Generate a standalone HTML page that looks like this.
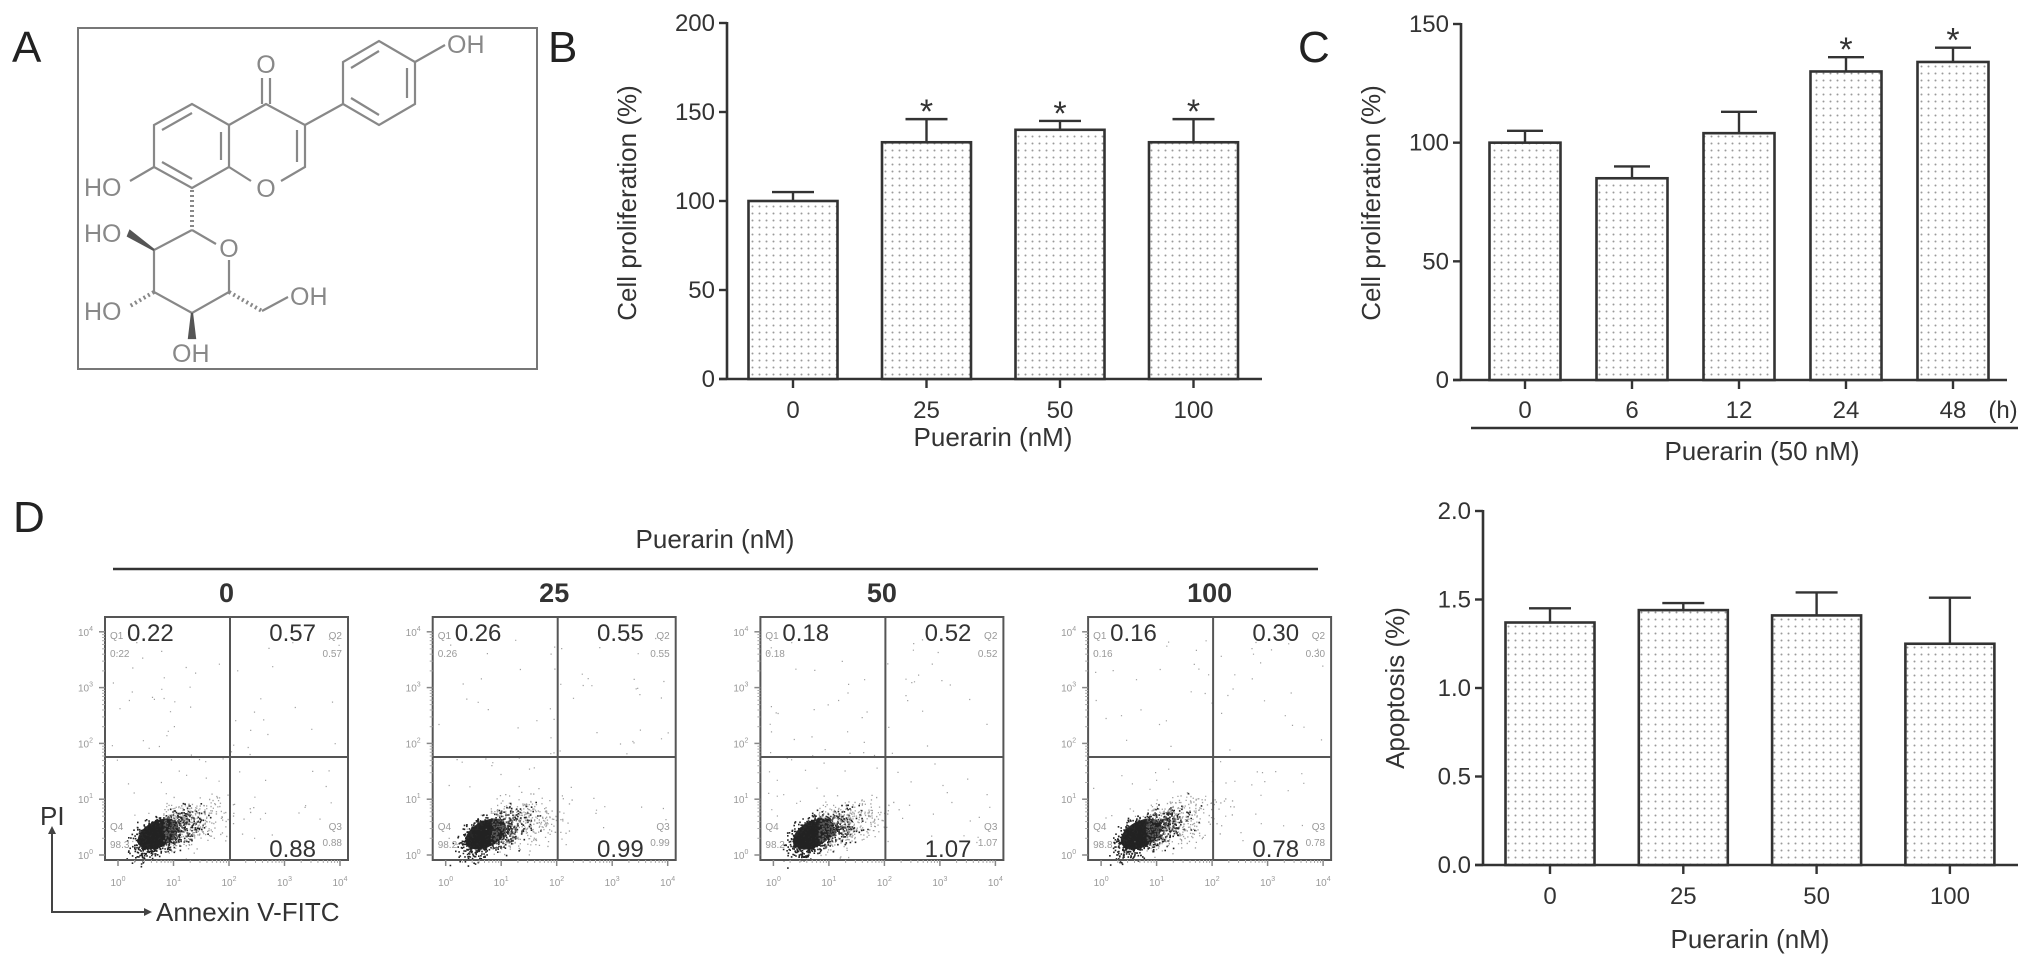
<!DOCTYPE html>
<html><head><meta charset="utf-8"><title>Puerarin figure</title>
<style>
html,body{margin:0;padding:0;background:#fff;}
svg{display:block;font-family:"Liberation Sans",Arial,sans-serif;}
</style></head>
<body>
<svg id="fig" width="2031" height="964" viewBox="0 0 2031 964" xmlns="http://www.w3.org/2000/svg">
<defs>
<pattern id="dots" width="7" height="7" patternUnits="userSpaceOnUse">
<rect width="7" height="7" fill="#fff"/>
<circle cx="3.5" cy="3.5" r="1" fill="#9a9a9a"/>
</pattern>
</defs>
<rect width="2031" height="964" fill="#fff"/>

<!-- Panel A: molecule -->
<g>
<text x="12" y="62" font-size="44" fill="#222">A</text>
<rect x="78" y="28" width="459" height="341" fill="none" stroke="#777" stroke-width="2"/>
<g stroke="#888" stroke-width="2.2" fill="none">
<polygon points="192,104 154,125 154,167 192,188 229,167 229,125"/>
<line x1="162" y1="130" x2="192" y2="113"/>
<line x1="162" y1="162" x2="192" y2="179"/>
<line x1="221" y1="132" x2="221" y2="160"/>
<polyline points="229,125 266,104 305,125 305,167 281,181"/>
<line x1="251" y1="181" x2="229" y2="167"/>
<line x1="297" y1="130" x2="297" y2="162"/>
<line x1="262" y1="104" x2="262" y2="78"/><line x1="270" y1="104" x2="270" y2="78"/>
<line x1="305" y1="125" x2="343" y2="104"/>
<polygon points="343,104 343,62 379,41 415,62 415,104 379,125"/>
<line x1="351" y1="68" x2="379" y2="51"/>
<line x1="351" y1="98" x2="379" y2="115"/>
<line x1="407" y1="68" x2="407" y2="98"/>
<line x1="415" y1="62" x2="445" y2="45"/>
<line x1="154" y1="167" x2="130" y2="181"/>
<line x1="192" y1="190" x2="192" y2="228" stroke-dasharray="2,3" stroke-width="4"/>
<polyline points="192,230 216,244"/>
<polyline points="229,260 229,292 192,313 154,292 154,250 192,230"/>
<polygon points="154,250 128,236 130,231" fill="#555" stroke="#555"/>
<line x1="154" y1="292" x2="130" y2="306" stroke-dasharray="2,3" stroke-width="4"/>
<polygon points="192,313 189,338 195,338" fill="#555" stroke="#555"/>
<line x1="229" y1="292" x2="262" y2="311" stroke-dasharray="2,3" stroke-width="4"/>
<line x1="262" y1="311" x2="288" y2="297"/>
</g>
<g font-size="25" fill="#888">
<text x="266" y="73" text-anchor="middle">O</text>
<text x="266" y="197" text-anchor="middle">O</text>
<text x="229" y="257" text-anchor="middle">O</text>
<text x="447" y="53">OH</text>
<text x="84" y="196">HO</text>
<text x="84" y="242">HO</text>
<text x="84" y="320">HO</text>
<text x="290" y="305">OH</text>
<text x="172" y="362">OH</text>
</g>
</g>

<g id="charts"></g>
</svg>

<script>
// ---- Data: panel B ----
const bCats = ['0', '25', '50', '100'];
const bVals = [100, 133, 140, 133];
const bErr = [5, 13, 5, 13];
const bStar = [0, 1, 1, 1];
const bTicks = [0, 50, 100, 150, 200];
// ---- Data: panel C ----
const cCats = ['0', '6', '12', '24', '48'];
const cVals = [100, 85, 104, 130, 134];
const cErr = [5, 5, 9, 6, 6];
const cStar = [0, 0, 0, 1, 1];
const cTicks = [0, 50, 100, 150];
// ---- Data: panel D apoptosis bars ----
const dCats = ['0', '25', '50', '100'];
const dVals = [1.37, 1.44, 1.41, 1.25];
const dErr = [0.08, 0.04, 0.13, 0.26];
const dStar = [0, 0, 0, 0];
const dTicks = [0, 0.5, 1.0, 1.5, 2.0];
// ---- Data: flow cytometry quadrant percentages ----
const flowDoses = ['0', '25', '50', '100'];
const flowQ1 = ['0.22', '0.26', '0.18', '0.16'];
const flowQ2 = ['0.57', '0.55', '0.52', '0.30'];
const flowQ3 = ['0.88', '0.99', '1.07', '0.78'];
const flowQ4 = ['98.3', '98.2', '98.2', '98.8'];

const NS = 'http://www.w3.org/2000/svg';
const root = document.getElementById('charts');
function mk(tag, attrs, parent, txt) {
  const e = document.createElementNS(NS, tag);
  for (const k in attrs) e.setAttribute(k, attrs[k]);
  if (txt !== undefined) e.textContent = txt;
  (parent || root).appendChild(e);
  return e;
}
const INK = '#333';

function barChart(p) {
  const g = mk('g', {});
  
  
  const y = v => p.y0 - (v / p.max) * (p.y0 - p.yTop);
  const x = i => p.first + i * p.step;
  // axes
  const ya = mk('line', {x1: p.ax, y1: p.yTop - 1, x2: p.ax, y2: p.y0 + 1, stroke: INK, 'stroke-width': 2.6}, g);
  
  
  const xa = mk('line', {x1: p.ax - 8, y1: p.y0, x2: p.xEnd, y2: p.y0, stroke: INK, 'stroke-width': 2.6}, g);
  
  
  p.ticks.forEach(t => {
    mk('line', {x1: p.ax - 8, y1: y(t), x2: p.ax, y2: y(t), stroke: INK, 'stroke-width': 2.4}, g);
    const tl = mk('text', {x: p.ax - 12, y: y(t) + 8, 'font-size': 24, fill: INK, 'text-anchor': 'end'}, g, p.fmt ? p.fmt(t) : String(t));
    
    
  });
  p.cats.forEach((c, i) => {
    const cx = x(i), top = y(p.vals[i]), et = y(p.vals[i] + p.errs[i]);
    const ev = mk('line', {x1: cx, y1: top, x2: cx, y2: et, stroke: INK, 'stroke-width': 2.4}, g);
    
    
    mk('line', {x1: cx - p.cap, y1: et, x2: cx + p.cap, y2: et, stroke: INK, 'stroke-width': 2.4}, g);
    const r = mk('rect', {x: cx - p.bw / 2, y: top, width: p.bw, height: p.y0 - top, fill: 'url(#dots)', stroke: INK, 'stroke-width': 2.6}, g);
    
    
    mk('line', {x1: cx, y1: p.y0, x2: cx, y2: p.y0 + 9, stroke: INK, 'stroke-width': 2.4}, g);
    const lb = mk('text', {x: cx, y: p.labY, 'font-size': 24, fill: INK, 'text-anchor': 'middle'}, g, c);
    
    
    if (p.stars[i]) {
      const s = mk('text', {x: cx, y: et + 4, 'font-size': 34, fill: INK, 'text-anchor': 'middle'}, g, '*');
      
      
    }
  });
  const yl = mk('text', {x: p.ylX, y: p.ylY, 'font-size': 26, fill: INK, 'text-anchor': 'middle', transform: 'rotate(-90 ' + p.ylX + ' ' + p.ylY + ')'}, g, p.yLabel);
  
  
  const xl = mk('text', {x: p.xlX, y: p.xlY, 'font-size': 26, fill: INK, 'text-anchor': 'middle'}, g, p.xLabel);
  
  
  return g;
}

// Panel labels
const lb_ = mk('text', {x: 548, y: 62, 'font-size': 44, fill: '#222'}, root, 'B');


const lc_ = mk('text', {x: 1298, y: 62, 'font-size': 44, fill: '#222'}, root, 'C');


const ld_ = mk('text', {x: 13, y: 532, 'font-size': 44, fill: '#222'}, root, 'D');



barChart({name: 'chart-b', cats: bCats, vals: bVals, errs: bErr, stars: bStar, ticks: bTicks, max: 200,
  ax: 727, xEnd: 1262, y0: 379, yTop: 23, first: 793, step: 133.5, bw: 89, cap: 21, labY: 418,
  yLabel: 'Cell proliferation (%)', ylX: 636, ylY: 203, xLabel: 'Puerarin (nM)', xlX: 993, xlY: 446});

barChart({name: 'chart-c', cats: cCats, vals: cVals, errs: cErr, stars: cStar, ticks: cTicks, max: 150,
  ax: 1461, xEnd: 2007, y0: 380, yTop: 24, first: 1525, step: 107, bw: 71, cap: 18, labY: 418,
  yLabel: 'Cell proliferation (%)', ylX: 1380, ylY: 203, xLabel: 'Puerarin (50 nM)', xlX: 1762, xlY: 460});
const hU = mk('text', {x: 2003, y: 418, 'font-size': 24, fill: INK, 'text-anchor': 'middle'}, root, '(h)');


const cl = mk('line', {x1: 1471, y1: 428, x2: 2018, y2: 428, stroke: INK, 'stroke-width': 2.4});



barChart({name: 'chart-d-apoptosis', cats: dCats, vals: dVals, errs: dErr, stars: dStar, ticks: dTicks, max: 2,
  ax: 1483, xEnd: 2018, y0: 865, yTop: 511, first: 1550, step: 133.3, bw: 89, cap: 21, labY: 904,
  fmt: t => t.toFixed(1),
  yLabel: 'Apoptosis (%)', ylX: 1404, ylY: 688, xLabel: 'Puerarin (nM)', xlX: 1750, xlY: 948});

// ---- Flow cytometry plots ----
const hdr = mk('text', {x: 715, y: 548, 'font-size': 26, fill: INK, 'text-anchor': 'middle'}, root, 'Puerarin (nM)');


const hl = mk('line', {x1: 113, y1: 569, x2: 1318, y2: 569, stroke: INK, 'stroke-width': 2.4});



let seed = 12345;
function rnd() { seed = (seed * 1103515245 + 12345) % 2147483648; return seed / 2147483648; }
function gauss() { return (rnd() + rnd() + rnd() + rnd() - 2) / 0.58; }

flowDoses.forEach((dose, i) => {
  const L = 105 + i * 327.7, T = 617, W = 243, H = 243, B = T + H, VX = L + 125, HY = 757;
  const g = mk('g', {});
  
  
  const dl = mk('text', {x: L + W / 2, y: 602, 'font-size': 27, 'font-weight': 'bold', fill: INK, 'text-anchor': 'middle'}, g, dose);
  
  
  // scatter cloud
  const cx = L + 53, cy = T + 217;
  const ell = mk('ellipse', {cx: cx, cy: cy, rx: 22, ry: 13, fill: '#111', transform: 'rotate(-28 ' + cx + ' ' + cy + ')', opacity: 0.9}, g);
  
  
  let d = '';
  for (let k = 0; k < 900; k++) {
    const a = gauss(), b = gauss();
    const px = cx + a * 16 + Math.abs(a) * 4, py = cy + b * 9 - a * 6;
    d += 'M' + px.toFixed(1) + ' ' + py.toFixed(1) + 'h1.6v1.6h-1.6z';
  }
  mk('path', {d: d, fill: '#222'}, g);
  let d2 = '';
  for (let k = 0; k < 420; k++) {
    const px = cx + 5 + Math.abs(gauss()) * 32, py = cy - 4 + gauss() * 12 - (px - cx) * 0.2;
    d2 += 'M' + px.toFixed(1) + ' ' + py.toFixed(1) + 'h1.3v1.3h-1.3z';
  }
  for (let k = 0; k < 90; k++) {
    const px = L + 5 + rnd() * (W - 10), py = T + 20 + rnd() * (H - 30);
    d2 += 'M' + px.toFixed(1) + ' ' + py.toFixed(1) + 'h1.2v1.2h-1.2z';
  }
  mk('path', {d: d2, fill: '#777', opacity: 0.7}, g);
  // box & quadrants
  const bx = mk('rect', {x: L, y: T, width: W, height: H, fill: 'none', stroke: '#555', 'stroke-width': 2}, g);
  
  
  mk('line', {x1: VX, y1: T, x2: VX, y2: B, stroke: '#555', 'stroke-width': 2}, g);
  mk('line', {x1: L, y1: HY, x2: L + W, y2: HY, stroke: '#555', 'stroke-width': 2}, g);
  // axis ticks
  for (let k = 0; k <= 4; k++) {
    const tx = L + 13 + k * 55.5, ty = B - 5 - k * 55.8;
    mk('line', {x1: tx, y1: B, x2: tx, y2: B + 6, stroke: '#888', 'stroke-width': 1.5}, g);
    mk('line', {x1: L - 6, y1: ty, x2: L, y2: ty, stroke: '#888', 'stroke-width': 1.5}, g);
    const xt = mk('text', {x: tx, y: B + 26, 'font-size': 10, fill: '#999', 'text-anchor': 'middle'}, g, '10');
    mk('tspan', {dy: -5, 'font-size': 7}, xt, String(k));
    
    
    const yt = mk('text', {x: L - 12, y: ty + 4, 'font-size': 10, fill: '#999', 'text-anchor': 'end'}, g, '10');
    mk('tspan', {dy: -5, 'font-size': 7}, yt, String(k));
    
    
    if (k < 4) for (let m = 2; m < 10; m++) {
      const f = Math.log10(m) * 55.5;
      mk('line', {x1: tx + f, y1: B, x2: tx + f, y2: B + 3, stroke: '#aaa', 'stroke-width': 1}, g);
      mk('line', {x1: L - 3, y1: ty - f, x2: L, y2: ty - f, stroke: '#aaa', 'stroke-width': 1}, g);
    }
  }
  // quadrant labels
  const sm = {'font-size': 10, fill: '#999'};
  mk('text', Object.assign({x: L + 5, y: T + 22}, sm), g, 'Q1');
  mk('text', Object.assign({x: L + 5, y: T + 40}, sm), g, flowQ1[i]);
  mk('text', Object.assign({x: L + W - 6, y: T + 22, 'text-anchor': 'end'}, sm), g, 'Q2');
  mk('text', Object.assign({x: L + W - 6, y: T + 40, 'text-anchor': 'end'}, sm), g, flowQ2[i]);
  mk('text', Object.assign({x: L + 5, y: B - 30}, sm), g, 'Q4');
  mk('text', Object.assign({x: L + 5, y: B - 12}, sm), g, flowQ4[i]);
  mk('text', Object.assign({x: L + W - 6, y: B - 30, 'text-anchor': 'end'}, sm), g, 'Q3');
  mk('text', Object.assign({x: L + W - 6, y: B - 14, 'text-anchor': 'end'}, sm), g, flowQ3[i]);
  const big = {'font-size': 24, fill: '#333'};
  const q1 = mk('text', Object.assign({x: L + 22, y: T + 24}, big), g, flowQ1[i]);
  
  
  const q2 = mk('text', Object.assign({x: L + W - 32, y: T + 24, 'text-anchor': 'end'}, big), g, flowQ2[i]);
  
  
  const q3 = mk('text', Object.assign({x: L + W - 32, y: B - 3, 'text-anchor': 'end'}, big), g, flowQ3[i]);
  
  
});

// PI / Annexin axis legend
const pi = mk('text', {x: 40, y: 825, 'font-size': 26, fill: INK}, root, 'PI');


const ar = mk('path', {d: 'M52 830 V912 H146', fill: 'none', stroke: '#444', 'stroke-width': 2});


mk('path', {d: 'M52 826 l-4 8 h8z M152 912 l-8 -4 v8z', fill: '#444'});
const an = mk('text', {x: 156, y: 921, 'font-size': 26, fill: INK}, root, 'Annexin V-FITC');


</script>
</body></html>
